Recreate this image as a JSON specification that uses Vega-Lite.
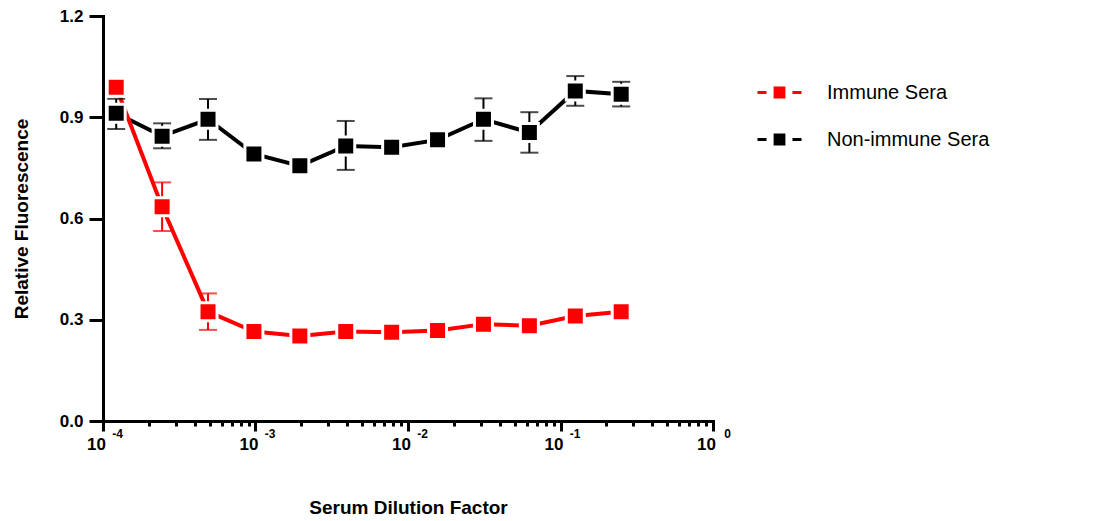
{
  "$schema": "https://vega.github.io/schema/vega-lite/v6.json",
  "width": 610,
  "height": 405,
  "autosize": {"type": "none"},
  "padding": {"left": 103, "top": 16, "right": 382, "bottom": 100},
  "background": "white",
  "config": {
    "view": {"stroke": null},
    "font": "Liberation Sans",
    "axis": {
      "grid": false,
      "domainColor": "black",
      "domainWidth": 3,
      "domainCap": "square",
      "tickColor": "black",
      "tickWidth": 3,
      "labelColor": "black",
      "labelFont": "Liberation Sans",
      "labelFontWeight": "bold",
      "labelFontSize": 17,
      "titleColor": "black",
      "titleFont": "Liberation Sans",
      "titleFontWeight": "bold",
      "titleFontSize": 19
    }
  },
  "data": {
    "values": [
      {"series": "Non-immune Sera", "dilution": 0.0001220703125, "fluorescence": 0.912, "lo": 0.865, "hi": 0.955},
      {"series": "Non-immune Sera", "dilution": 0.000244140625, "fluorescence": 0.844, "lo": 0.808, "hi": 0.882},
      {"series": "Non-immune Sera", "dilution": 0.00048828125, "fluorescence": 0.894, "lo": 0.833, "hi": 0.954},
      {"series": "Non-immune Sera", "dilution": 0.0009765625, "fluorescence": 0.791, "lo": null, "hi": null},
      {"series": "Non-immune Sera", "dilution": 0.001953125, "fluorescence": 0.756, "lo": null, "hi": null},
      {"series": "Non-immune Sera", "dilution": 0.00390625, "fluorescence": 0.815, "lo": 0.744, "hi": 0.889},
      {"series": "Non-immune Sera", "dilution": 0.0078125, "fluorescence": 0.811, "lo": null, "hi": null},
      {"series": "Non-immune Sera", "dilution": 0.015625, "fluorescence": 0.833, "lo": null, "hi": null},
      {"series": "Non-immune Sera", "dilution": 0.03125, "fluorescence": 0.894, "lo": 0.830, "hi": 0.956},
      {"series": "Non-immune Sera", "dilution": 0.0625, "fluorescence": 0.855, "lo": 0.795, "hi": 0.915},
      {"series": "Non-immune Sera", "dilution": 0.125, "fluorescence": 0.978, "lo": 0.934, "hi": 1.022},
      {"series": "Non-immune Sera", "dilution": 0.25, "fluorescence": 0.968, "lo": 0.932, "hi": 1.005},
      {"series": "Immune Sera", "dilution": 0.0001220703125, "fluorescence": 0.989, "lo": null, "hi": null},
      {"series": "Immune Sera", "dilution": 0.000244140625, "fluorescence": 0.635, "lo": 0.563, "hi": 0.707},
      {"series": "Immune Sera", "dilution": 0.00048828125, "fluorescence": 0.324, "lo": 0.270, "hi": 0.378},
      {"series": "Immune Sera", "dilution": 0.0009765625, "fluorescence": 0.265, "lo": null, "hi": null},
      {"series": "Immune Sera", "dilution": 0.001953125, "fluorescence": 0.252, "lo": null, "hi": null},
      {"series": "Immune Sera", "dilution": 0.00390625, "fluorescence": 0.265, "lo": null, "hi": null},
      {"series": "Immune Sera", "dilution": 0.0078125, "fluorescence": 0.263, "lo": null, "hi": null},
      {"series": "Immune Sera", "dilution": 0.015625, "fluorescence": 0.268, "lo": null, "hi": null},
      {"series": "Immune Sera", "dilution": 0.03125, "fluorescence": 0.287, "lo": null, "hi": null},
      {"series": "Immune Sera", "dilution": 0.0625, "fluorescence": 0.282, "lo": null, "hi": null},
      {"series": "Immune Sera", "dilution": 0.125, "fluorescence": 0.311, "lo": null, "hi": null},
      {"series": "Immune Sera", "dilution": 0.25, "fluorescence": 0.324, "lo": null, "hi": null}
    ]
  },
  "encoding": {
    "x": {"field": "dilution", "type": "quantitative", "scale": {"type": "log", "domain": [0.0001, 1], "nice": false}, "axis": null},
    "y": {
      "field": "fluorescence", "type": "quantitative",
      "scale": {"domain": [0, 1.2], "nice": false, "zero": false},
      "axis": {
        "title": "Relative Fluorescence",
        "values": [0, 0.3, 0.6, 0.9, 1.2],
        "format": ".1f",
        "tickSize": 14,
        "labelPadding": 6,
        "titlePadding": 28
      }
    },
    "color": {
      "field": "series", "type": "nominal",
      "scale": {"domain": ["Immune Sera", "Non-immune Sera"], "range": ["#ff0000", "#000000"]},
      "legend": {
        "title": null,
        "orient": "none",
        "legendX": 653,
        "legendY": 53,
        "padding": 0,
        "symbolType": "M-1,0H-0.59M0.59,0H1M-0.2,-0.2H0.2V0.2H-0.2Z",
        "symbolSize": 1936,
        "symbolStrokeWidth": 3,
        "labelFont": "Liberation Sans",
        "labelFontSize": 20,
        "labelColor": "black",
        "labelOffset": 24,
        "labelLimit": 400,
        "rowPadding": 13,
        "encode": {
          "symbols": {
            "update": {
              "fill": {"scale": "color", "field": "value"},
              "stroke": {"scale": "color", "field": "value"},
              "strokeWidth": {"value": 3},
              "opacity": {"value": 1}
            }
          }
        }
      }
    }
  },
  "layer": [
    {
      "transform": [{"filter": "datum.series == 'Non-immune Sera'"}],
      "mark": {"type": "line", "strokeWidth": 4},
      "encoding": {
        "x": {
          "field": "dilution", "type": "quantitative",
          "scale": {"type": "log", "domain": [0.0001, 1], "nice": false},
          "axis": {
            "orient": "bottom",
            "title": "Serum  Dilution Factor",
            "values": [0.0001, 0.001, 0.01, 0.1, 1],
            "labelExpr": "'10'",
            "labelOffset": -7,
            "tickSize": 10,
            "labelPadding": 5,
            "titlePadding": 46,
            "labelFlush": false,
            "labelOverlap": false
          }
        }
      }
    },
    {
      "transform": [{"filter": "datum.series == 'Immune Sera'"}],
      "mark": {"type": "line", "strokeWidth": 4},
      "encoding": {
        "x": {
          "field": "dilution", "type": "quantitative",
          "scale": {"type": "log", "domain": [0.0001, 1], "nice": false},
          "axis": {
            "orient": "bottom",
            "title": null,
            "values": [0.0002, 0.0003, 0.0004, 0.0005, 0.0006, 0.0007, 0.0008, 0.0009, 0.002, 0.003, 0.004, 0.005, 0.006, 0.007, 0.008, 0.009, 0.02, 0.03, 0.04, 0.05, 0.06, 0.07, 0.08, 0.09, 0.2, 0.3, 0.4, 0.5, 0.6, 0.7, 0.8, 0.9],
            "labels": false,
            "domain": false,
            "tickSize": 5
          }
        }
      }
    },
    {
      "transform": [{"filter": "datum.lo != null"}],
      "mark": {"type": "rule", "strokeWidth": 2},
      "encoding": {
        "x": {
          "field": "dilution", "type": "quantitative",
          "scale": {"type": "log", "domain": [0.0001, 1], "nice": false},
          "axis": {
            "orient": "bottom",
            "title": null,
            "values": [0.0001, 0.001, 0.01, 0.1, 1],
            "labelExpr": "datum.value < 0.0005 ? '-4' : datum.value < 0.005 ? '-3' : datum.value < 0.05 ? '-2' : datum.value < 0.5 ? '-1' : '0'",
            "labelFontSize": 12,
            "labelOffset": 14,
            "labelPadding": -3,
            "tickSize": 10,
            "tickColor": "transparent",
            "domain": false,
            "labelFlush": false,
            "labelOverlap": false
          }
        },
        "y": {"field": "lo", "type": "quantitative"},
        "y2": {"field": "hi"}
      }
    },
    {
      "transform": [{"filter": "datum.lo != null"}],
      "mark": {"type": "tick", "orient": "horizontal", "size": 18, "thickness": 2},
      "encoding": {
        "y": {"field": "lo", "type": "quantitative"}
      }
    },
    {
      "transform": [{"filter": "datum.hi != null"}],
      "mark": {"type": "tick", "orient": "horizontal", "size": 18, "thickness": 2},
      "encoding": {
        "y": {"field": "hi", "type": "quantitative"}
      }
    },
    {
      "mark": {"type": "point", "shape": "square", "filled": true, "size": 324, "stroke": "white", "strokeWidth": 3, "opacity": 1}
    }
  ],
  "resolve": {"axis": {"x": "independent"}}
}
